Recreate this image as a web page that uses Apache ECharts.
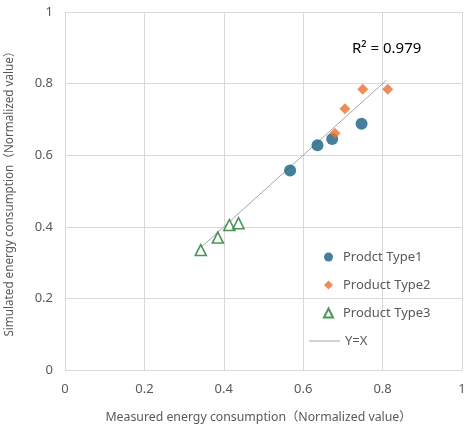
<!DOCTYPE html>
<html><head><meta charset="utf-8">
<script src="https://cdn.jsdelivr.net/npm/echarts@6/dist/echarts.min.js"></script>
<style>html,body{margin:0;padding:0;background:#fff}#c{width:467px;height:425px}</style>
</head><body><div id="c"></div>
<script>
const type1 = [[0.567,0.557],[0.636,0.628],[0.673,0.645],[0.747,0.688]];
const type2 = [[0.680,0.661],[0.705,0.730],[0.750,0.784],[0.813,0.784]];
const type3 = [[0.342,0.335],[0.385,0.370],[0.414,0.405],[0.437,0.410]];
const refLine = [[0.34,0.34],[0.81,0.81]];
const seriesNames = ['Prodct Type1','Product Type2','Product Type3','Y=X'];
const axisTicks = [0,0.2,0.4,0.6,0.8,1];
const r2Text = 'R² = 0.979';
const xTitle = 'Measured energy consumption（Normalized value）';
const yTitle = 'Simulated energy consumption（Normalized value）';

const FONT = '"Noto Sans","Noto Sans CJK SC",sans-serif';
const chart = echarts.init(document.getElementById('c'));
const axisCommon = {
  type:'value', min:0, max:1, interval:0.2,
  axisLine:{show:true,lineStyle:{color:'#d9d9d9',width:1}},
  axisTick:{show:false},
  splitLine:{show:true,lineStyle:{color:'#d9d9d9',width:1}},
  axisLabel:{color:'#595959',fontSize:13,fontFamily:FONT,
    formatter:v=>{const t=axisTicks.find(a=>Math.abs(a-v)<1e-9);return t===undefined?'':String(t);}},
  nameLocation:'middle'
};
const legendText = {color:'#595959',fontSize:13,fontFamily:FONT,lineHeight:14};
chart.setOption({
  animation:false,
  grid:{left:65,right:5,top:12,bottom:55,containLabel:false,outerBoundsMode:'none'},
  xAxis:Object.assign({},axisCommon,{name:xTitle,nameGap:41,
    nameTextStyle:{color:'#595959',fontSize:12.3,fontFamily:FONT,padding:[0,10,0,0]},
    axisLabel:Object.assign({},axisCommon.axisLabel,{margin:13})}),
  yAxis:Object.assign({},axisCommon,{name:yTitle,nameGap:49,
    nameTextStyle:{color:'#595959',fontSize:11.7,fontFamily:FONT},
    axisLabel:Object.assign({},axisCommon.axisLabel,{margin:12})}),
  legend:[
    {
      orient:'vertical', left:318, top:245, itemWidth:9, itemHeight:9, itemGap:14,
      textStyle:Object.assign({},legendText,{padding:[0,0,0,5]}),
      data:[
        {name:seriesNames[0],icon:'circle'},
        {name:seriesNames[1],icon:'diamond'},
        {name:seriesNames[2],icon:'triangle'}
      ]
    },
    {
      orient:'vertical', left:304, top:329, itemWidth:31, itemHeight:1, itemGap:14,
      textStyle:legendText,
      data:[{name:seriesNames[3],icon:'rect',itemStyle:{color:'#a6a6a6'}}]
    }
  ],
  graphic:[{type:'text',left:352,top:41,style:{text:r2Text,fontSize:15,fill:'#000',fontFamily:FONT}}],
  series:[
    {name:seriesNames[3],type:'line',data:refLine,symbol:'none',lineStyle:{color:'#a6a6a6',width:1},itemStyle:{color:'#a6a6a6'},z:1},
    {name:seriesNames[0],type:'scatter',data:type1,symbol:'circle',symbolSize:12,itemStyle:{color:'#156082'},z:3},
    {name:seriesNames[1],type:'scatter',data:type2,symbol:'diamond',symbolSize:11,itemStyle:{color:'#E97132'},z:3},
    {name:seriesNames[2],type:'scatter',data:type3,symbol:'triangle',symbolSize:11,itemStyle:{color:'#ffffff',borderColor:'#217a2c',borderWidth:1.6},z:3}
  ]
});
</script></body></html>
